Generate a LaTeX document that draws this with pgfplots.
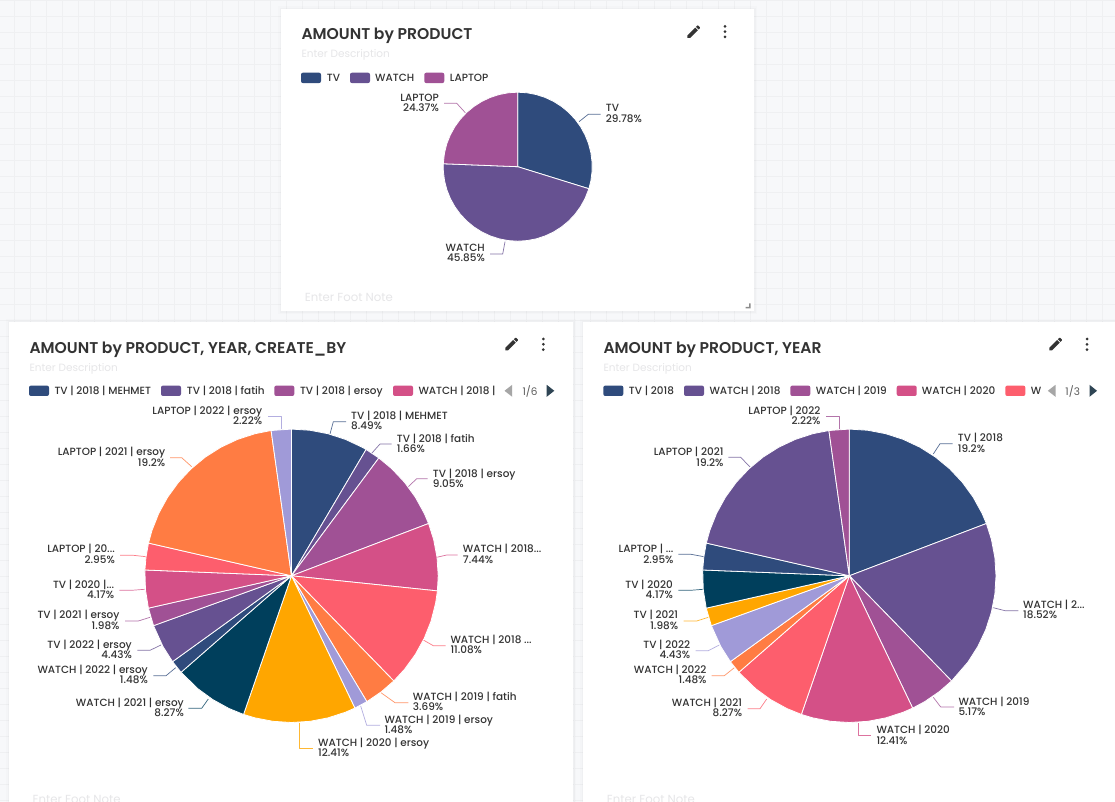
\documentclass[border=0pt]{standalone}
\usepackage{pgfplots}
\usepackage{fontspec}
\pgfplotsset{compat=1.18}
\usepgfplotslibrary{polar}
\setmainfont{Poppins}
\newfontfamily\semib{Poppins SemiBold}
\newfontfamily\medi{Poppins Medium}
\definecolor{c1}{HTML}{2F4B7C}
\definecolor{c2}{HTML}{665191}
\definecolor{c3}{HTML}{A05195}
\definecolor{c4}{HTML}{D45087}
\definecolor{c5}{HTML}{FD5E6D}
\definecolor{c6}{HTML}{FF7C43}
\definecolor{c7}{HTML}{A09AD8}
\definecolor{c8}{HTML}{FFA600}
\definecolor{c9}{HTML}{003F5C}
\definecolor{ink}{HTML}{333333}
\definecolor{faint}{HTML}{E6E6E8}
\definecolor{arrowd}{HTML}{2F4554}
\newcommand{\lblfont}{\medi\fontsize{10.45}{10.45}\selectfont}
\newcommand{\legfont}{\medi\fontsize{10.45}{10.45}\selectfont}
\newcommand{\pencilicon}[2]{\begin{scope}[shift={(#1,#2)},x=0.7pt,y=0.7pt]
\fill[ink] (-9,-5.25)--(-9,-9)--(-5.25,-9)--(5.81,2.06)--(2.06,5.81)--cycle;
\fill[ink] (8.71,4.96)--(8.9,5.66)--(8.71,6.37)--(6.37,8.71)--(5.66,8.9)--(4.96,8.71)--(3.13,6.88)--(6.88,3.13)--cycle;
\end{scope}}
\newcommand{\menuicon}[2]{\fill[ink] (#1,#2-5.3) circle (1.5pt) (#1,#2) circle (1.5pt) (#1,#2+5.3) circle (1.5pt);}
\newcommand{\swatch}[3]{\fill[#3,rounded corners=2pt] (#1,#2-5.2) rectangle (#1+20,#2+5.2);}
\newcommand{\legtext}[3]{\node[anchor=base west,inner sep=0pt,text=ink,font=\legfont] at (#1,#2+3.7) {#3};}
\newcommand{\card}[4]{%
\fill[black,opacity=.012] (#1-3,#2-3) rectangle (#3+3,#4+3);
\fill[black,opacity=.018] (#1-1.5,#2-1) rectangle (#3+1.5,#4+2);
\fill[white] (#1,#2) rectangle (#3,#4);}
\newcommand{\RL}[4]{% right-aligned two-line label
\node[anchor=base east,inner sep=0pt,text=ink,font=\lblfont,yshift=-3.7pt] at (axis cs:#1,#2) {#3};
\node[anchor=base east,inner sep=0pt,text=ink,font=\lblfont,yshift=-14.1pt] at (axis cs:#1,#2) {#4};}
\newcommand{\LL}[4]{% left-aligned two-line label
\node[anchor=base west,inner sep=0pt,text=ink,font=\lblfont,yshift=-3.7pt] at (axis cs:#1,#2) {#3};
\node[anchor=base west,inner sep=0pt,text=ink,font=\lblfont,yshift=-14.1pt] at (axis cs:#1,#2) {#4};}
\pgfplotsset{
 wedge/.style={fill=#1,draw=white,line width=.8pt,line join=round},
 leader/.style={draw=#1!80!white,line width=.7pt,line join=round},
 pieaxis/.style={hide axis,clip=false,scale only axis,no markers,xmin=0,xmax=360,ymin=0,ymax=1,anchor=center,
   x filter/.code={\pgfmathparse{90-3.6*##1}}},
}
\begin{document}
\begin{tikzpicture}
\useasboundingbox (0,0) rectangle (1115pt,802pt);
\clip (0,0) rectangle (1115pt,802pt);
\begin{scope}[x=1pt,y=-1pt,shift={(0pt,802pt)}]
\definecolor{bgc}{HTML}{F7F8FA}\definecolor{gridc}{HTML}{EFF0F2}
\fill[bgc] (0,0) rectangle (1115,802);
\foreach \g in {14.5,30.5,...,1115}{\draw[gridc,line width=.8pt] (\g,0)--(\g,802);}
\foreach \g in {0,16,...,802}{\draw[gridc,line width=.8pt] (0,\g)--(1115,\g);}
\card{281}{9}{754.3}{311.5}
\card{9}{321.7}{572.7}{810}
\card{583.3}{321.7}{1125}{810}
% resize handle
\fill[black!45] (745.5,308.5)--(750.5,308.5)--(750.5,303.5)--(749,303.5)--(749,307)--(745.5,307)--cycle;
% titles
\node[anchor=base west,inner sep=0pt,text=ink,font=\semib\fontsize{15.6}{15.6}\selectfont] at (301.3,39.8) {AMOUNT by PRODUCT};
\node[anchor=base west,inner sep=0pt,text=ink,font=\semib\fontsize{15.6}{15.6}\selectfont] at (29.3,353.2) {AMOUNT by PRODUCT, YEAR, CREATE\_BY};
\node[anchor=base west,inner sep=0pt,text=ink,font=\semib\fontsize{15.6}{15.6}\selectfont] at (603.3,353.2) {AMOUNT by PRODUCT, YEAR};
% descriptions and notes
\foreach \p/\q in {301.3/58,29.3/371.3,603.3/371.3}{\node[anchor=base west,inner sep=0pt,text=faint,font=\fontsize{10.5}{10.5}\selectfont] at (\p,\q) {Enter Description};}
\node[anchor=base west,inner sep=0pt,text=faint,font=\fontsize{11.7}{11.7}\selectfont] at (304.7,301.9) {Enter Foot Note};
\node[anchor=base west,inner sep=0pt,text=faint,font=\fontsize{11.7}{11.7}\selectfont] at (32.5,804) {Enter Foot Note};
\node[anchor=base west,inner sep=0pt,text=faint,font=\fontsize{11.7}{11.7}\selectfont] at (606.7,804) {Enter Foot Note};
% icons
\pencilicon{693.7}{31.7}\menuicon{725}{31.6}
\pencilicon{511.7}{344}\menuicon{543.3}{344.3}
\pencilicon{1055.7}{344}\menuicon{1087}{344.3}
% legends
\swatch{301}{77.9}{c1}\legtext{326.7}{77.9}{TV}
\swatch{350}{77.9}{c2}\legtext{375}{77.9}{WATCH}
\swatch{424.3}{77.9}{c3}\legtext{449.7}{77.9}{LAPTOP}
\swatch{29}{390.8}{c1}\legtext{54.3}{390.8}{TV | 2018 | MEHMET}
\swatch{161}{390.8}{c2}\legtext{186.7}{390.8}{TV | 2018 | fatih}
\swatch{274.3}{390.8}{c3}\legtext{299.8}{390.8}{TV | 2018 | ersoy}
\swatch{393}{390.8}{c4}\legtext{418.3}{390.8}{WATCH | 2018 |}
\fill[black!35] (504.5,390.8)--(512.2,384.8)--(512.2,396.8)--cycle;
\node[inner sep=0pt,text=ink!80,font=\fontsize{10.45}{10.45}\selectfont] at (530,391) {1/6};
\fill[arrowd] (554.3,390.8)--(546.7,384.8)--(546.7,396.8)--cycle;
\swatch{603.3}{390.8}{c1}\legtext{628.7}{390.8}{TV | 2018}
\swatch{684}{390.8}{c2}\legtext{709.3}{390.8}{WATCH | 2018}
\swatch{790.3}{390.8}{c3}\legtext{815.7}{390.8}{WATCH | 2019}
\swatch{896.7}{390.8}{c4}\legtext{921.7}{390.8}{WATCH | 2020}
\swatch{1005.3}{390.8}{c5}\legtext{1030.7}{390.8}{W}
\fill[black!35] (1047.8,390.8)--(1055.5,384.8)--(1055.5,396.8)--cycle;
\node[inner sep=0pt,text=ink!80,font=\fontsize{10.45}{10.45}\selectfont] at (1072.7,391) {1/3};
\fill[arrowd] (1097,390.8)--(1089.5,384.8)--(1089.5,396.8)--cycle;
\end{scope}

% master axis in pixel coordinates: leaders and labels
\begin{axis}[at={(0pt,0pt)},anchor=south west,scale only axis,width=1115pt,height=802pt,
  xmin=0,xmax=1115,ymin=0,ymax=802,y dir=reverse,hide axis,clip=false,no markers]
% pie 1
\addplot[leader=c1] coordinates {(579,121.7)(588.3,114.3)(600.7,114.3)};
\addplot[leader=c2] coordinates {(505,241.7)(502.7,254)(490,254)};
\addplot[leader=c3] coordinates {(465.3,112.7)(456.7,103.3)(444,103.3)};
\LL{605.7}{108.3}{TV}{29.78\%}
\RL{485}{247.7}{WATCH}{45.85\%}
\RL{439}{97.7}{LAPTOP}{24.37\%}
% pie 2
\addplot[leader=c1] coordinates {(330,434)(333.3,421.7)(346,421.7)};
\addplot[leader=c2] coordinates {(371.7,453.3)(380,444)(391.7,444)};
\addplot[leader=c3] coordinates {(408.3,486.7)(416.7,478.7)(427.7,478.7)};
\addplot[leader=c4] coordinates {(436.7,557.3)(446.7,555)(457.7,555)};
\addplot[leader=c5] coordinates {(423.3,640)(433.3,645.7)(445.7,645.7)};
\addplot[leader=c6] coordinates {(381,692.7)(395,702.7)(408.3,702.7)};
\addplot[leader=c7] coordinates {(360.7,706)(366.7,725.3)(380,725.3)};
\addplot[leader=c8] coordinates {(299.7,723.3)(299.7,748.7)(312.7,748.7)};
\addplot[leader=c9] coordinates {(208.3,699)(201.7,708.3)(188.3,708.3)};
\addplot[leader=c1] coordinates {(175.7,667.7)(166,675.7)(153.3,675.7)};
\addplot[leader=c2] coordinates {(161,645)(150,650.3)(137.3,650.3)};
\addplot[leader=c3] coordinates {(150,617.3)(138.3,621)(125,621)};
\addplot[leader=c4] coordinates {(144.7,589.3)(131.7,590.3)(119.3,590.3)};
\addplot[leader=c5] coordinates {(146,556.7)(133.3,555.3)(120,555.3)};
\addplot[leader=c6] coordinates {(191.7,466.7)(181.7,457.7)(170,457.7)};
\addplot[leader=c7] coordinates {(281,429)(281,416.3)(267.7,416.3)};
\LL{351}{415.7}{TV | 2018 | MEHMET}{8.49\%}
\LL{396.7}{438.3}{TV | 2018 | fatih}{1.66\%}
\LL{432.7}{473.3}{TV | 2018 | ersoy}{9.05\%}
\LL{462.7}{549}{WATCH | 2018...}{7.44\%}
\LL{450.3}{639.3}{WATCH | 2018 ...}{11.08\%}
\LL{412.7}{696.7}{WATCH | 2019 | fatih}{3.69\%}
\LL{384.3}{719.7}{WATCH | 2019 | ersoy}{1.48\%}
\LL{318}{742.3}{WATCH | 2020 | ersoy}{12.41\%}
\RL{184}{702.7}{WATCH | 2021 | ersoy}{8.27\%}
\RL{148}{669.7}{WATCH | 2022 | ersoy}{1.48\%}
\RL{132}{644.7}{TV | 2022 | ersoy}{4.43\%}
\RL{119.7}{615}{TV | 2021 | ersoy}{1.98\%}
\RL{114.3}{584.3}{TV | 2020 |...}{4.17\%}
\RL{115}{549}{LAPTOP | 20...}{2.95\%}
\RL{165.3}{452}{LAPTOP | 2021 | ersoy}{19.2\%}
\RL{262.3}{410.3}{LAPTOP | 2022 | ersoy}{2.22\%}
% pie 3
\addplot[leader=c1] coordinates {(933.3,454)(940,443.7)(952.7,443.7)};
\addplot[leader=c2] coordinates {(993.3,607.7)(1005,610.7)(1018.3,610.7)};
\addplot[leader=c3] coordinates {(933.3,697.3)(940.7,707)(954,707)};
\addplot[leader=c4] coordinates {(858,723.3)(858,735.7)(871.3,735.7)};
\addplot[leader=c5] coordinates {(766.7,699)(760,708.7)(747.7,708.7)};
\addplot[leader=c6] coordinates {(734.3,667.7)(724.3,675.7)(711.7,675.7)};
\addplot[leader=c7] coordinates {(719.3,645)(708.3,650.7)(695.7,650.7)};
\addplot[leader=c8] coordinates {(708.3,617.3)(696.7,621)(683.7,621)};
\addplot[leader=c9] coordinates {(703,589.3)(690.7,590.3)(678.3,590.3)};
\addplot[leader=c1] coordinates {(704,556.7)(691,554.3)(678.3,554.3)};
\addplot[leader=c2] coordinates {(750,467)(740.7,457.3)(728.3,457.3)};
\addplot[leader=c3] coordinates {(839.3,429)(839.3,416.3)(826,416.3)};
\LL{957.7}{438}{TV | 2018}{19.2\%}
\LL{1023}{604.3}{WATCH | 2...}{18.52\%}
\LL{958.3}{701.3}{WATCH | 2019}{5.17\%}
\LL{876.3}{730}{WATCH | 2020}{12.41\%}
\RL{742.3}{702.7}{WATCH | 2021}{8.27\%}
\RL{706.7}{669.7}{WATCH | 2022}{1.48\%}
\RL{690.3}{644.7}{TV | 2022}{4.43\%}
\RL{678.3}{615}{TV | 2021}{1.98\%}
\RL{673}{584.3}{TV | 2020}{4.17\%}
\RL{673.7}{549}{LAPTOP | ...}{2.95\%}
\RL{723.7}{452}{LAPTOP | 2021}{19.2\%}
\RL{820.7}{410.3}{LAPTOP | 2022}{2.22\%}
\end{axis}

% pie 1: x = cumulative percent, clockwise from twelve o'clock
\begin{polaraxis}[pieaxis,at={(517.7pt,635.3pt)},width=149pt,height=149pt]
\addplot[wedge=c1] coordinates {(0,0)(0,1)(2,1)(4,1)(6,1)(8,1)(10,1)(12,1)(14,1)(16,1)(18,1)(20,1)(22,1)(24,1)(26,1)(28,1)(29.78,1)} -- cycle;
\addplot[wedge=c2] coordinates {(29.78,0)(29.78,1)(32,1)(34,1)(36,1)(38,1)(40,1)(42,1)(44,1)(46,1)(48,1)(50,1)(52,1)(54,1)(56,1)(58,1)(60,1)(62,1)(64,1)(66,1)(68,1)(70,1)(72,1)(74,1)(75.63,1)} -- cycle;
\addplot[wedge=c3] coordinates {(75.63,0)(75.63,1)(78,1)(80,1)(82,1)(84,1)(86,1)(88,1)(90,1)(92,1)(94,1)(96,1)(98,1)(100,1)} -- cycle;
\end{polaraxis}

% pie 2
\begin{polaraxis}[pieaxis,at={(291.5pt,226.2pt)},width=293.4pt,height=293.4pt]
\addplot[wedge=c1] coordinates {(0,0)(0,1)(2,1)(4,1)(6,1)(8,1)(8.49,1)} -- cycle;
\addplot[wedge=c2] coordinates {(8.49,0)(8.49,1)(10.15,1)} -- cycle;
\addplot[wedge=c3] coordinates {(10.15,0)(10.15,1)(12,1)(14,1)(16,1)(18,1)(19.2,1)} -- cycle;
\addplot[wedge=c4] coordinates {(19.2,0)(19.2,1)(21,1)(23,1)(25,1)(26.64,1)} -- cycle;
\addplot[wedge=c5] coordinates {(26.64,0)(26.64,1)(28,1)(30,1)(32,1)(34,1)(36,1)(37.72,1)} -- cycle;
\addplot[wedge=c6] coordinates {(37.72,0)(37.72,1)(39.5,1)(41.41,1)} -- cycle;
\addplot[wedge=c7] coordinates {(41.41,0)(41.41,1)(42.89,1)} -- cycle;
\addplot[wedge=c8] coordinates {(42.89,0)(42.89,1)(44,1)(46,1)(48,1)(50,1)(52,1)(54,1)(55.3,1)} -- cycle;
\addplot[wedge=c9] coordinates {(55.3,0)(55.3,1)(57,1)(59,1)(61,1)(63.57,1)} -- cycle;
\addplot[wedge=c1] coordinates {(63.57,0)(63.57,1)(65.05,1)} -- cycle;
\addplot[wedge=c2] coordinates {(65.05,0)(65.05,1)(67,1)(69.48,1)} -- cycle;
\addplot[wedge=c3] coordinates {(69.48,0)(69.48,1)(71.46,1)} -- cycle;
\addplot[wedge=c4] coordinates {(71.46,0)(71.46,1)(73.5,1)(75.63,1)} -- cycle;
\addplot[wedge=c5] coordinates {(75.63,0)(75.63,1)(77,1)(78.58,1)} -- cycle;
\addplot[wedge=c6] coordinates {(78.58,0)(78.58,1)(80,1)(82,1)(84,1)(86,1)(88,1)(90,1)(92,1)(94,1)(96,1)(97.78,1)} -- cycle;
\addplot[wedge=c7] coordinates {(97.78,0)(97.78,1)(100,1)} -- cycle;
\end{polaraxis}

% pie 3
\begin{polaraxis}[pieaxis,at={(849.3pt,226.2pt)},width=293.4pt,height=293.4pt]
\addplot[wedge=c1] coordinates {(0,0)(0,1)(2,1)(4,1)(6,1)(8,1)(10,1)(12,1)(14,1)(16,1)(18,1)(19.2,1)} -- cycle;
\addplot[wedge=c2] coordinates {(19.2,0)(19.2,1)(21,1)(23,1)(25,1)(27,1)(29,1)(31,1)(33,1)(35,1)(37.72,1)} -- cycle;
\addplot[wedge=c3] coordinates {(37.72,0)(37.72,1)(39.5,1)(41.41,1)(42.89,1)} -- cycle;
\addplot[wedge=c4] coordinates {(42.89,0)(42.89,1)(44,1)(46,1)(48,1)(50,1)(52,1)(54,1)(55.3,1)} -- cycle;
\addplot[wedge=c5] coordinates {(55.3,0)(55.3,1)(57,1)(59,1)(61,1)(63.57,1)} -- cycle;
\addplot[wedge=c6] coordinates {(63.57,0)(63.57,1)(65.05,1)} -- cycle;
\addplot[wedge=c7] coordinates {(65.05,0)(65.05,1)(67,1)(69.48,1)} -- cycle;
\addplot[wedge=c8] coordinates {(69.48,0)(69.48,1)(71.46,1)} -- cycle;
\addplot[wedge=c9] coordinates {(71.46,0)(71.46,1)(73.5,1)(75.63,1)} -- cycle;
\addplot[wedge=c1] coordinates {(75.63,0)(75.63,1)(77,1)(78.58,1)} -- cycle;
\addplot[wedge=c2] coordinates {(78.58,0)(78.58,1)(80,1)(82,1)(84,1)(86,1)(88,1)(90,1)(92,1)(94,1)(96,1)(97.78,1)} -- cycle;
\addplot[wedge=c3] coordinates {(97.78,0)(97.78,1)(100,1)} -- cycle;
\end{polaraxis}
\end{tikzpicture}
\end{document}
